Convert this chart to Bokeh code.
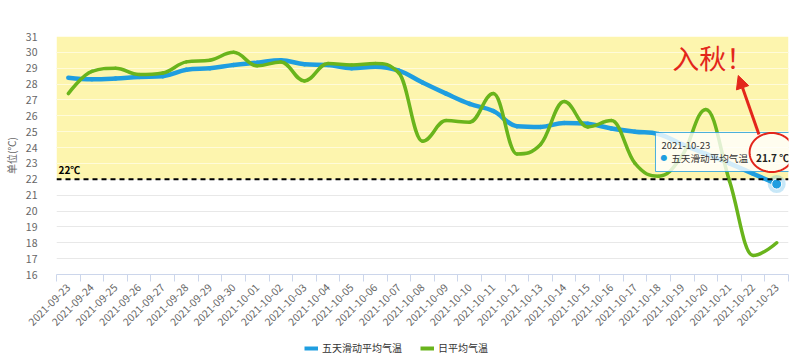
import math
from bokeh.plotting import figure
from bokeh.layouts import column
from bokeh.models import (Range1d, FixedTicker, Span, Label, BoxAnnotation, PolyAnnotation,
                          Arrow, NormalHead, Legend, LegendItem, Grid)
from bokeh.embed import file_html
from bokeh.resources import INLINE

# ---------------- data ----------------
dates = ["2021-09-23", "2021-09-24", "2021-09-25", "2021-09-26", "2021-09-27", "2021-09-28",
         "2021-09-29", "2021-09-30", "2021-10-01", "2021-10-02", "2021-10-03", "2021-10-04",
         "2021-10-05", "2021-10-06", "2021-10-07", "2021-10-08", "2021-10-09", "2021-10-10",
         "2021-10-11", "2021-10-12", "2021-10-13", "2021-10-14", "2021-10-15", "2021-10-16",
         "2021-10-17", "2021-10-18", "2021-10-19", "2021-10-20", "2021-10-21", "2021-10-22",
         "2021-10-23"]
avg5 = [28.4, 28.3, 28.35, 28.45, 28.5, 28.9, 29.0, 29.2, 29.35, 29.5, 29.25, 29.2, 29.0, 29.1,
        28.85, 28.1, 27.4, 26.75, 26.3, 25.35, 25.3, 25.55, 25.5, 25.2, 25.0, 24.85, 24.2, 23.6,
        23.0, 22.35, 21.7]
daily = [27.4, 28.8, 29.0, 28.6, 28.7, 29.4, 29.5, 30.0, 29.15, 29.4, 28.2, 29.3, 29.2, 29.3,
         28.7, 24.4, 25.7, 25.6, 27.4, 23.6, 24.2, 26.9, 25.3, 25.7, 23.0, 22.2, 23.5, 26.4,
         21.9, 17.2, 18.0]
y_ticks = list(range(16, 32))
threshold = 22
series_names = ["五天滑动平均气温", "日平均气温"]
title_text = "基本站五天滑动平均气温与日平均气温监测"

BLUE = "#1f9ee0"
GREEN = "#69b41c"
RED = "#e3261b"
FONT = "Noto Sans CJK SC"

W = 800
LEG_H = 22
H = 357 - LEG_H
L, R, T = 45, 12, 36
B = H - T - 238
n = len(dates)
xs = list(range(n))


def spline(xv, yv, smoothing=1.5, denom=2.5):
    """Highcharts-style spline control points (bezier segments through the data)."""
    lc, rc = [], []
    for i in range(len(xv)):
        px, py = xv[i], yv[i]
        lcx, lcy, rcx, rcy = px, py, px, py
        if 0 < i < len(xv) - 1:
            lx, ly, nx, ny = xv[i - 1], yv[i - 1], xv[i + 1], yv[i + 1]
            lcx = (smoothing * px + lx) / denom
            lcy = (smoothing * py + ly) / denom
            rcx = (smoothing * px + nx) / denom
            rcy = (smoothing * py + ny) / denom
            if rcx != lcx:
                corr = ((rcy - lcy) * (rcx - px)) / (rcx - lcx) + py - rcy
                lcy += corr
                rcy += corr
            if lcy > ly and lcy > py:
                lcy = max(ly, py); rcy = 2 * py - lcy
            elif lcy < ly and lcy < py:
                lcy = min(ly, py); rcy = 2 * py - lcy
            if rcy > ny and rcy > py:
                rcy = max(ny, py); lcy = 2 * py - rcy
            elif rcy < ny and rcy < py:
                rcy = min(ny, py); lcy = 2 * py - rcy
        lc.append((lcx, lcy)); rc.append((rcx, rcy))
    seg = dict(x0=[], y0=[], x1=[], y1=[], cx0=[], cy0=[], cx1=[], cy1=[])
    for i in range(1, len(xv)):
        seg["x0"].append(xv[i - 1]); seg["y0"].append(yv[i - 1])
        seg["x1"].append(xv[i]); seg["y1"].append(yv[i])
        seg["cx0"].append(rc[i - 1][0]); seg["cy0"].append(rc[i - 1][1])
        seg["cx1"].append(lc[i][0]); seg["cy1"].append(lc[i][1])
    return seg


p = figure(width=W, height=H, output_backend="svg", toolbar_location=None,
           x_range=Range1d(-0.5, n - 0.5), y_range=Range1d(min(y_ticks), max(y_ticks)),
           min_border_left=L, min_border_right=R, min_border_top=T, min_border_bottom=B,
           outline_line_color=None, background_fill_color="white")

# pixel helpers for annotations only
FW = W - L - R
FH = H - T - B
def dx(px):
    return -0.5 + (px - L) / FW * n
def dy(py):
    return max(y_ticks) - (py - T) / FH * (max(y_ticks) - min(y_ticks))

# grid (below band, visible on white)
p.xgrid.grid_line_color = None
p.ygrid.grid_line_color = "#e8e8e8"
p.ygrid.level = "underlay"
p.ygrid.ticker = FixedTicker(ticks=y_ticks)

# yellow band
band = BoxAnnotation(bottom=threshold, top=max(y_ticks), fill_color="#fdf5ae", fill_alpha=1.0,
                     line_color=None, level="underlay")
p.add_layout(band)
band_grid = Grid(dimension=1, ticker=FixedTicker(ticks=[t for t in y_ticks if threshold < t < max(y_ticks)]),
                 grid_line_color="#fffbd9", grid_line_width=1, level="underlay")
p.add_layout(band_grid)

# axes
p.yaxis.ticker = FixedTicker(ticks=y_ticks)
p.yaxis.axis_line_color = None
p.yaxis.major_tick_line_color = None
p.yaxis.minor_tick_line_color = None
p.yaxis.major_label_text_font = FONT
p.yaxis.major_label_text_font_size = "10.5px"
p.yaxis.major_label_text_color = "#666666"
p.yaxis.major_label_standoff = 13
p.yaxis.axis_label = "单位(℃)"
p.yaxis.axis_label_text_font = FONT
p.yaxis.axis_label_text_font_size = "10px"
p.yaxis.axis_label_text_font_style = "normal"
p.yaxis.axis_label_text_color = "#666666"
p.yaxis.axis_label_standoff = 4

p.xaxis.ticker = FixedTicker(ticks=xs, minor_ticks=[i - 0.5 for i in range(n + 1)])
p.xaxis.major_label_overrides = {i: d for i, d in enumerate(dates)}
p.xaxis.major_label_orientation = math.pi / 4
p.xaxis.major_label_text_font = FONT
p.xaxis.major_label_text_font_size = "10.5px"
p.xaxis.major_label_text_color = "#666666"
p.xaxis.major_label_standoff = 4
p.xaxis.axis_line_color = "#ccd6eb"
p.xaxis.major_tick_line_color = None
p.xaxis.minor_tick_line_color = "#ccd6eb"
p.xaxis.minor_tick_out = 7
p.xaxis.minor_tick_in = 0

# threshold line
p.add_layout(Span(location=threshold, dimension="width", line_color="black", line_width=2,
                  line_dash="5 4"))
p.add_layout(Label(x=-0.5, y=threshold, x_offset=2, y_offset=2, text=f"{threshold}℃",
                   text_font=FONT, text_font_size="10px", text_font_style="bold",
                   text_color="black", text_baseline="bottom"))

# series (smooth splines)
sb = spline(xs, avg5)
sg = spline(xs, daily)
p.bezier(source=sb, x0="x0", y0="y0", x1="x1", y1="y1", cx0="cx0", cy0="cy0", cx1="cx1",
         cy1="cy1", line_color=BLUE, line_width=4.5, line_cap="round")
p.bezier(source=sg, x0="x0", y0="y0", x1="x1", y1="y1", cx0="cx0", cy0="cy0", cx1="cx1",
         cy1="cy1", line_color=GREEN, line_width=3.5, line_cap="round")

# hovered point highlight
last = n - 1
p.scatter([xs[last]], [avg5[last]], size=18, fill_color=BLUE, fill_alpha=0.25, line_color=None)
p.scatter([xs[last]], [avg5[last]], size=10, fill_color=BLUE, line_color="white", line_width=1)

# tooltip box
tl, tr, tt, tb = dx(653), dx(797), dy(132), dy(171)
p.add_layout(PolyAnnotation(xs=[tl, tr, tr, tl], ys=[tt, tt, tb, tb], fill_color="white",
                            fill_alpha=0.8, line_color=BLUE, line_width=1, line_alpha=0.8,
                            level="overlay"))
p.add_layout(Label(x=dx(659), y=dy(145), text=dates[last], text_font=FONT,
                   text_font_size="9.5px", text_color="#333333", text_baseline="middle",
                   level="overlay"))
p.add_layout(Label(x=dx(658), y=dy(157), text="●", text_font="DejaVu Sans",
                   text_font_size="8px", text_color=BLUE, text_baseline="middle",
                   level="overlay"))
p.add_layout(Label(x=dx(669), y=dy(157), text=series_names[0], text_font=FONT,
                   text_font_size="9.6px", text_color="#333333", text_baseline="middle",
                   level="overlay"))
p.add_layout(Label(x=dx(755), y=dy(157), text=f"{avg5[last]} ℃", text_font=FONT,
                   text_font_size="10px", text_font_style="bold", text_color="#222222",
                   text_baseline="middle", level="overlay"))

# hand-drawn annotation: ellipse, arrow, text
cx, cy, rx, ry = 771, 152, 22.5, 19.5
ell_x = [dx(cx + rx * math.cos(2 * math.pi * k / 72)) for k in range(72)]
ell_y = [dy(cy + ry * math.sin(2 * math.pi * k / 72)) for k in range(72)]
p.add_layout(PolyAnnotation(xs=ell_x, ys=ell_y, fill_alpha=0, line_color=RED, line_alpha=1.0,
                            line_width=2, level="overlay"))
p.add_layout(Arrow(end=NormalHead(size=13, fill_color=RED, line_color=RED),
                   x_start=dx(758), y_start=dy(134), x_end=dx(737), y_end=dy(75),
                   line_color=RED, line_width=3, level="overlay"))
p.add_layout(Label(x=dx(711), y=dy(57), text="入秋！", text_font=FONT, text_font_size="27px",
                   text_color=RED, text_align="center", text_baseline="middle"))

# title and menu icon
p.add_layout(Label(x=dx(392), y=dy(12), text=title_text, text_font=FONT,
                   text_font_size="14.5px", text_color="#333333", text_align="center",
                   text_baseline="middle"))
p.add_layout(Label(x=dx(779), y=dy(12), text="☰", text_font="DejaVu Sans",
                   text_font_size="15px", text_color="#666666", text_align="center",
                   text_baseline="middle"))

# ---------------- legend strip ----------------
lf = figure(width=W, height=LEG_H, output_backend="svg", toolbar_location=None,
            x_range=Range1d(0, 1), y_range=Range1d(0, 1), min_border=0,
            x_axis_location=None, y_axis_location=None,
            outline_line_color=None, background_fill_color="white")
lf.grid.visible = False
# legend proxies: the series values themselves, drawn outside the strip's visible range
lb = lf.line(xs, avg5, line_color=BLUE, line_width=4)
lg = lf.line(xs, daily, line_color=GREEN, line_width=4)
legend = Legend(items=[LegendItem(label=series_names[0], renderers=[lb]),
                       LegendItem(label=series_names[1], renderers=[lg])],
                orientation="horizontal", location=(248, 2),
                label_text_font=FONT, label_text_font_size="10px", label_text_color="#333333",
                glyph_width=14, glyph_height=12, label_height=12, spacing=18, padding=0,
                margin=0, label_standoff=4, border_line_color=None, background_fill_alpha=0)
lf.add_layout(legend)

open("out.html", "w").write(file_html(column(p, lf, spacing=0), INLINE))
